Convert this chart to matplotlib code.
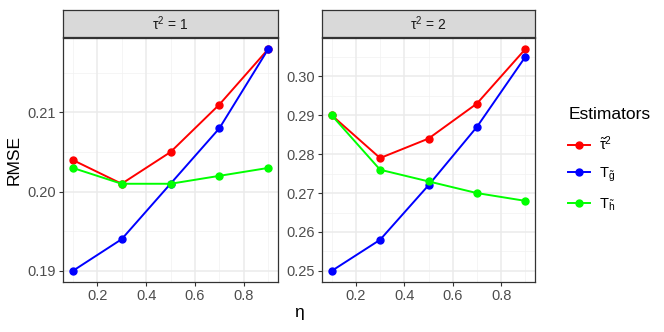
import matplotlib
matplotlib.use("Agg")
import matplotlib.pyplot as plt
from matplotlib.lines import Line2D

plt.rcParams['font.family'] = ['Liberation Sans', 'DejaVu Sans']
plt.rcParams['mathtext.fontset'] = 'custom'
plt.rcParams['mathtext.rm'] = 'Liberation Sans'
plt.rcParams['mathtext.it'] = 'Liberation Sans'
plt.rcParams['mathtext.bf'] = 'Liberation Sans:bold'

eta = [0.1, 0.3, 0.5, 0.7, 0.9]
panels = ['τ$^2$ = 1', 'τ$^2$ = 2']

tau_p1 = [0.204, 0.201, 0.205, 0.211, 0.218]
tg_p1 = [0.190, 0.194, 0.201, 0.208, 0.218]
th_p1 = [0.203, 0.201, 0.201, 0.202, 0.203]

tau_p2 = [0.290, 0.279, 0.284, 0.293, 0.307]
tg_p2 = [0.250, 0.258, 0.272, 0.287, 0.305]
th_p2 = [0.290, 0.276, 0.273, 0.270, 0.268]

series_labels = [r'$\tilde{\mathrm{τ}}^2$', r'$\mathrm{T}_{\tilde{\mathrm{g}}}$', r'$\mathrm{T}_{\tilde{\mathrm{h}}}$']
colors = ['#FF0000', '#0000FF', '#00FF00']

y_ticks = [[0.19, 0.20, 0.21], [0.25, 0.26, 0.27, 0.28, 0.29, 0.30]]
y_minor = [[0.195, 0.205, 0.215], [0.255, 0.265, 0.275, 0.285, 0.295, 0.305]]
x_ticks = [0.2, 0.4, 0.6, 0.8]
x_minor = [0.1, 0.3, 0.5, 0.7, 0.9]

data = [[tau_p1, tg_p1, th_p1], [tau_p2, tg_p2, th_p2]]

W, H = 664, 332
fig = plt.figure(figsize=(W / 100, H / 100), dpi=100)

boxes = [(63, 278), (322, 535)]
top, bottom = 38, 282
strip_top = 10

for i, (x0, x1) in enumerate(boxes):
    ax = fig.add_axes([x0 / W, (H - bottom) / H, (x1 - x0) / W, (bottom - top) / H])
    allv = [v for s in data[i] for v in s]
    lo, hi = min(allv), max(allv)
    pad = (hi - lo) * 0.05
    ax.set_ylim(lo - pad, hi + pad)
    ax.set_xlim(0.1 - 0.04, 0.9 + 0.04)
    ax.set_facecolor('white')
    for yv in y_minor[i]:
        ax.axhline(yv, color='#F2F2F2', lw=0.55, zorder=0)
    for xv in x_minor:
        ax.axvline(xv, color='#F2F2F2', lw=0.55, zorder=0)
    for yv in y_ticks[i]:
        ax.axhline(yv, color='#EBEBEB', lw=1.1, zorder=0)
    for xv in x_ticks:
        ax.axvline(xv, color='#EBEBEB', lw=1.1, zorder=0)
    for s, c in zip(data[i], colors):
        ax.plot(eta, s, color=c, lw=1.4, marker='o', ms=5, zorder=3)
    ax.set_xticks(x_ticks)
    ax.set_xticklabels(['{:.1f}'.format(v) for v in x_ticks])
    ax.set_yticks(y_ticks[i])
    ax.set_yticklabels(['{:.2f}'.format(v) for v in y_ticks[i]])
    ax.tick_params(axis='both', labelsize=10.5, colors='#333333', labelcolor='#4D4D4D',
                   length=3, width=0.8, pad=2)
    for sp in ax.spines.values():
        sp.set_color('#333333')
        sp.set_linewidth(0.9)
    sax = fig.add_axes([x0 / W, (H - top + 1) / H, (x1 - x0) / W, (top - 1 - strip_top) / H])
    sax.set_facecolor('#D9D9D9')
    sax.set_xticks([])
    sax.set_yticks([])
    for sp in sax.spines.values():
        sp.set_color('#333333')
        sp.set_linewidth(0.9)
    sax.text(0.5, 0.5, panels[i], ha='center', va='center', fontsize=10,
             color='#1A1A1A', transform=sax.transAxes)
    if i == 0:
        ax.set_ylabel('RMSE', fontsize=12.5, labelpad=4)

fig.text((63 + 535) / 2 / W, 1 - 313 / H, 'η', ha='center', va='center', fontsize=12.5)

handles = [Line2D([0], [0], color=c, lw=1.4, marker='o', ms=5) for c in colors]
leg = fig.legend(handles, series_labels, title='Estimators', loc='center left',
                 bbox_to_anchor=(555 / W, 1 - 160 / H), frameon=False, fontsize=10.5,
                 title_fontsize=12.5, handlelength=1.5, labelspacing=0.85,
                 handletextpad=0.6)
leg._legend_box.align = 'left'

fig.savefig('out.png', dpi=100)
